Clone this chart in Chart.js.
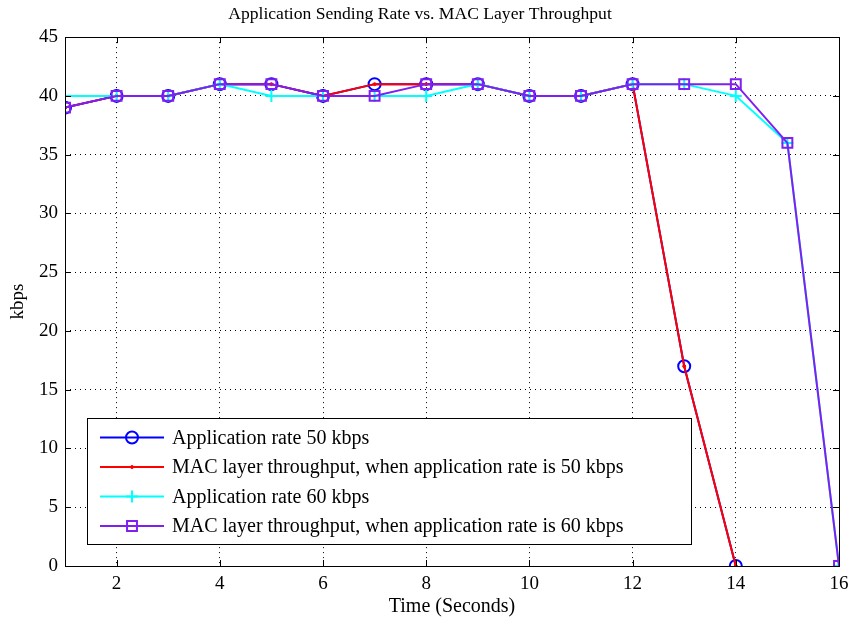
<!DOCTYPE html>
<html>
<head>
<meta charset="utf-8">
<script src="https://cdn.jsdelivr.net/npm/chart.js@4/dist/chart.umd.min.js"></script>
<style>
  html, body { margin: 0; padding: 0; background: #fff; }
  #wrap { width: 848px; height: 622px; }
</style>
</head>
<body>
<div id="wrap"><canvas id="rateChart" width="848" height="622"></canvas></div>
<script>
// time in seconds
const timeApp50 = [1, 2, 3, 4, 5, 6, 7, 8, 9, 10, 11, 12, 13, 14];
const timeApp60 = [1, 2, 3, 4, 5, 6, 7, 8, 9, 10, 11, 12, 13, 14, 15, 16];

// kbps values
const app50 = [39, 40, 40, 41, 41, 40, 41, 41, 41, 40, 40, 41, 17, 0];
const mac50 = [39, 40, 40, 41, 41, 40, 41, 41, 41, 40, 40, 41, 17, 0];
const app60 = [40, 40, 40, 41, 40, 40, 40, 40, 41, 40, 40, 41, 41, 40, 36, 0];
const mac60 = [39, 40, 40, 41, 41, 40, 40, 41, 41, 40, 40, 41, 41, 41, 36, 0];

const seriesLabels = [
    'Application rate 50 kbps',
    'MAC layer throughput, when application rate is 50 kbps',
    'Application rate 60 kbps',
    'MAC layer throughput, when application rate is 60 kbps'
];

const xTicks = [2, 4, 6, 8, 10, 12, 14, 16];
const yTicks = [0, 5, 10, 15, 20, 25, 30, 35, 40, 45];

const FONT = "'Liberation Serif', 'Times New Roman', serif";

function toPoints(xs, ys) {
    return xs.map((x, i) => ({ x: x, y: ys[i] }));
}

// box around the plot plus matlab style inward ticks
const boxPlugin = {
    id: 'box',
    afterDraw(chart) {
        const { ctx, chartArea: a, scales } = chart;
        ctx.save();
        ctx.strokeStyle = '#000';
        ctx.lineWidth = 1;
        ctx.beginPath();
        scales.x.ticks.forEach(t => {
            const px = Math.round(scales.x.getPixelForValue(t.value)) + 0.5;
            ctx.moveTo(px, a.bottom); ctx.lineTo(px, a.bottom - 6);
            ctx.moveTo(px, a.top); ctx.lineTo(px, a.top + 6);
        });
        scales.y.ticks.forEach(t => {
            const py = Math.round(scales.y.getPixelForValue(t.value)) + 0.5;
            ctx.moveTo(a.left, py); ctx.lineTo(a.left + 6, py);
            ctx.moveTo(a.right, py); ctx.lineTo(a.right - 6, py);
        });
        ctx.stroke();
        ctx.strokeRect(Math.round(a.left) + 0.5, Math.round(a.top) + 0.5,
            Math.round(a.right - a.left), Math.round(a.bottom - a.top));
        ctx.restore();
    }
};

// legend drawn inside the plot area, lower left
const innerLegend = {
    id: 'innerLegend',
    afterDraw(chart) {
        const ctx = chart.ctx;
        const bx = 87.5, by = 418.5, bw = 604, bh = 126;
        ctx.save();
        ctx.fillStyle = '#fff';
        ctx.fillRect(bx, by, bw, bh);
        ctx.strokeStyle = '#000';
        ctx.lineWidth = 1;
        ctx.strokeRect(bx, by, bw, bh);
        ctx.font = '20px ' + FONT;
        ctx.textBaseline = 'middle';
        chart.data.datasets.forEach((ds, i) => {
            const y = by + 19 + i * 29.5;
            ctx.strokeStyle = ds.borderColor;
            ctx.lineWidth = ds.borderWidth;
            ctx.beginPath();
            ctx.moveTo(100, y); ctx.lineTo(164, y);
            ctx.stroke();
            ctx.strokeStyle = ds.pointBorderColor;
            ctx.fillStyle = ds.pointBackgroundColor;
            ctx.lineWidth = ds.pointBorderWidth;
            Chart.helpers.drawPoint(ctx, {
                pointStyle: ds.pointStyle,
                radius: ds.pointRadius,
                borderWidth: ds.pointBorderWidth
            }, 132, y);
            ctx.fillStyle = '#000';
            ctx.fillText(ds.label, 172, y + 1);
        });
        ctx.restore();
    }
};

const ctx = document.getElementById('rateChart').getContext('2d');

const rateChart = new Chart(ctx, {
    type: 'line',
    data: {
        datasets: [
            {
                label: seriesLabels[0],
                data: toPoints(timeApp50, app50),
                borderColor: '#0000ff',
                borderWidth: 2,
                pointStyle: 'circle',
                pointRadius: 6,
                pointBorderWidth: 2,
                pointBorderColor: '#0000ff',
                pointBackgroundColor: 'rgba(0,0,0,0)',
                order: 3
            },
            {
                label: seriesLabels[1],
                data: toPoints(timeApp50, mac50),
                borderColor: '#ff0000',
                borderWidth: 2,
                pointStyle: 'circle',
                pointRadius: 1.5,
                pointBorderWidth: 1,
                pointBorderColor: '#ff0000',
                pointBackgroundColor: '#ff0000',
                order: 2
            },
            {
                label: seriesLabels[2],
                data: toPoints(timeApp60, app60),
                borderColor: '#00ffff',
                borderWidth: 2,
                pointStyle: 'cross',
                pointRadius: 6,
                pointBorderWidth: 2,
                pointBorderColor: '#00ffff',
                pointBackgroundColor: '#00ffff',
                order: 1
            },
            {
                label: seriesLabels[3],
                data: toPoints(timeApp60, mac60),
                borderColor: '#7f1ff0',
                borderWidth: 2,
                pointStyle: 'rect',
                pointRadius: 7,
                pointBorderWidth: 2,
                pointBorderColor: '#7f1ff0',
                pointBackgroundColor: 'rgba(0,0,0,0)',
                order: 0
            }
        ]
    },
    options: {
        responsive: false,
        animation: false,
        layout: { padding: { left: 0, right: 8, top: 0, bottom: 0 } },
        plugins: {
            legend: { display: false },
            tooltip: { enabled: false },
            title: {
                display: true,
                text: 'Application Sending Rate vs. MAC Layer Throughput',
                color: '#000',
                font: { family: FONT, size: 17.6, weight: 'normal' },
                padding: { top: 4, bottom: 12 }
            }
        },
        scales: {
            x: {
                type: 'linear',
                min: 1,
                max: 16,
                afterBuildTicks: s => { s.ticks = xTicks.map(v => ({ value: v })); },
                afterFit: s => { s.height = 56; s.paddingRight = 0; s.paddingLeft = 0; },
                grid: { color: '#000', drawTicks: false, lineWidth: 1 },
                border: { display: false, dash: [1, 4] },
                ticks: { color: '#000', font: { family: FONT, size: 19 }, padding: 7, maxRotation: 0 },
                title: {
                    display: true,
                    text: 'Time (Seconds)',
                    color: '#000',
                    font: { family: FONT, size: 20 },
                    padding: { top: 0, bottom: 3 }
                }
            },
            y: {
                min: 0,
                max: 45,
                afterBuildTicks: s => { s.ticks = yTicks.map(v => ({ value: v })); },
                afterFit: s => { s.width = 65; s.paddingTop = 0; s.paddingBottom = 0; },
                grid: { color: '#000', drawTicks: false, lineWidth: 1 },
                border: { display: false, dash: [1, 4] },
                ticks: { color: '#000', font: { family: FONT, size: 19 }, padding: 7 },
                title: {
                    display: true,
                    text: 'kbps',
                    color: '#000',
                    font: { family: FONT, size: 19 },
                    padding: { top: 7, bottom: 0 }
                }
            }
        }
    },
    plugins: [boxPlugin, innerLegend]
});
</script>
</body>
</html>
